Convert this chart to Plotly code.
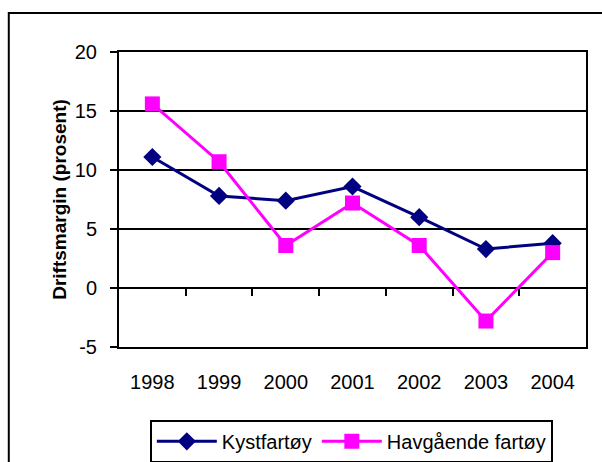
import plotly.graph_objects as go

years = ['1998', '1999', '2000', '2001', '2002', '2003', '2004']
kystfartoy = [11.1, 7.8, 7.4, 8.6, 6.0, 3.3, 3.8]
havgaende = [15.6, 10.7, 3.6, 7.2, 3.6, -2.8, 3.0]
y_ticks = [-5, 0, 5, 10, 15, 20]

font = 'Liberation Sans, Arial, sans-serif'

fig = go.Figure()
fig.add_trace(go.Scatter(
    x=years, y=kystfartoy, name='Kystfartøy', mode='lines+markers',
    line=dict(color='#000080', width=3),
    marker=dict(symbol='diamond', size=14, color='#000080'),
))
fig.add_trace(go.Scatter(
    x=years, y=havgaende, name='Havgående fartøy', mode='lines+markers',
    line=dict(color='#FF00FF', width=3),
    marker=dict(symbol='square', size=15, color='#FF00FF'),
))
# invisible helper so the category-boundary ticks on the zero line get drawn
fig.add_trace(go.Scatter(
    x=list(range(len(years))), y=kystfartoy, xaxis='x2', mode='none',
    showlegend=False, hoverinfo='skip',
))

fig.update_layout(xaxis=dict(
    type='category', categoryorder='array', categoryarray=years,
    range=[-0.5, len(years) - 0.5], automargin=False,
    showgrid=False, ticks='', showline=True, linecolor='black', linewidth=2,
    mirror=True, ticklabelstandoff=16,
    tickfont=dict(size=20, color='black', family=font),
))
fig.update_layout(xaxis2=dict(
    overlaying='x', anchor='free', position=(0 - (-5)) / 25,
    range=[-0.5, len(years) - 0.5], automargin=False,
    tickvals=[i + 0.5 for i in range(len(years) - 1)],
    ticks='outside', ticklen=7, tickwidth=2, tickcolor='black',
    showticklabels=False, showgrid=False, showline=False, zeroline=False,
))
fig.update_yaxes(
    range=[-5, 20], tickvals=y_ticks, ticktext=[str(v) for v in y_ticks],
    automargin=False,
    showgrid=True, gridcolor='black', gridwidth=2,
    zeroline=False,
    showline=True, linecolor='black', linewidth=2, mirror=True,
    ticks='outside', ticklen=7, tickwidth=2, tickcolor='black',
    ticklabelstandoff=9,
    tickfont=dict(size=20, color='black', family=font),
    title=dict(text='<b>Driftsmargin (prosent)</b>', standoff=3,
               font=dict(size=19, color='black', family=font)),
)

# outer chart frame
fig.add_shape(type='rect', xref='paper', yref='paper',
              x0=-0.236, x1=1.2, y0=-0.5, y1=1.132,
              line=dict(color='black', width=2))

fig.update_layout(
    width=602, height=462,
    margin=dict(l=119, r=16, t=52, b=115, autoexpand=False),
    plot_bgcolor='white', paper_bgcolor='white',
    font=dict(family=font, color='black'),
    showlegend=True,
    legend=dict(
        orientation='h', x=0.066, y=-0.247, xanchor='left', yanchor='top',
        bordercolor='black', borderwidth=2, itemwidth=60,
        font=dict(size=20, color='black', family=font),
        tracegroupgap=0,
    ),
    hovermode=False,
)

fig.write_html("out.html", config={'displayModeBar': False},
               post_script="document.body.style.margin='0';")
